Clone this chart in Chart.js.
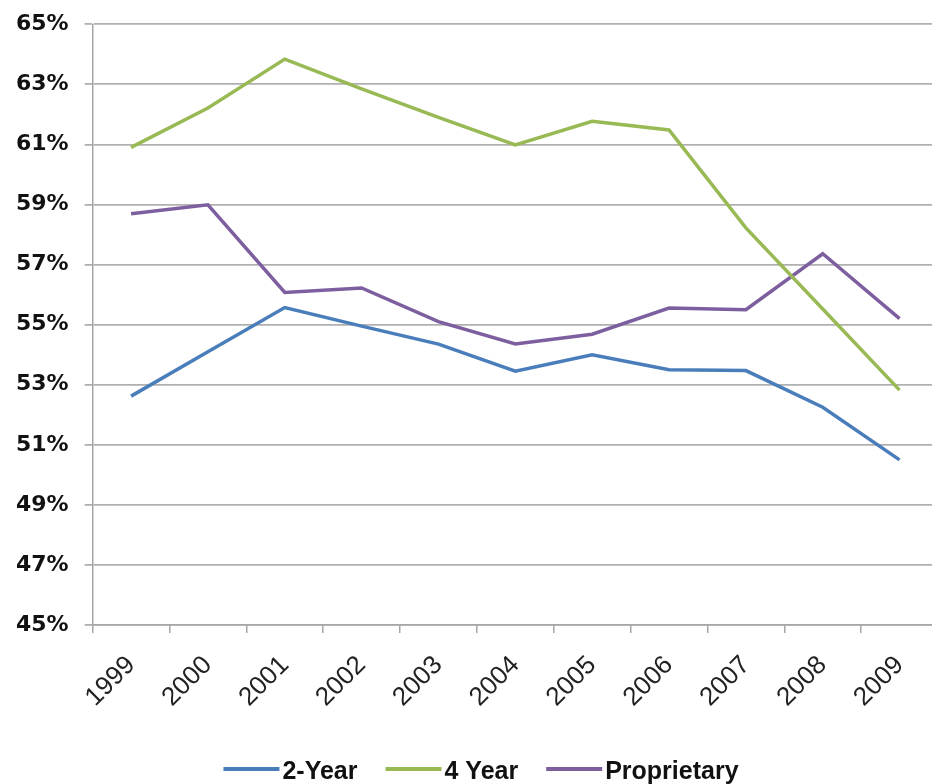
<!DOCTYPE html>
<html>
<head>
<meta charset="utf-8">
<script src="https://cdn.jsdelivr.net/npm/chart.js@4/dist/chart.umd.min.js"></script>
<style>
  html, body { margin: 0; padding: 0; background: #fff; overflow: hidden; }
  #wrap { width: 932px; height: 784px; overflow: hidden; }
  canvas { display: block; }
</style>
</head>
<body>
<div id="wrap"><canvas id="chart" width="940" height="784"></canvas></div>
<script>
// Completion rates by institution type, 1999–2009 (percent)
const years = ['1999', '2000', '2001', '2002', '2003', '2004', '2005', '2006', '2007', '2008', '2009'];
const twoYear = [52.62, 54.1, 55.57, 54.95, 54.35, 53.45, 54.0, 53.5, 53.47, 52.25, 50.5];
const fourYear = [60.9, 62.21, 63.84, 62.85, 61.9, 60.98, 61.77, 61.48, 58.22, 55.52, 52.82];
const proprietary = [58.69, 58.99, 56.07, 56.22, 55.1, 54.36, 54.68, 55.55, 55.5, 57.36, 55.2];
const yTicks = [45, 47, 49, 51, 53, 55, 57, 59, 61, 63, 65];

const seriesNames = ['2-Year', '4 Year', 'Proprietary'];
const seriesColors = ['#4a7ebb', '#98b954', '#7d5fa0'];

// Legend row under the axis: short line swatch, then the series name
const bottomLegend = {
  id: 'bottomLegend',
  afterDraw(chart, args, opts) {
    const ctx = chart.ctx;
    ctx.save();
    ctx.font = opts.font;
    ctx.textBaseline = 'middle';
    ctx.textAlign = 'left';
    const items = chart.data.datasets.map(ds => ({
      label: ds.label,
      color: ds.borderColor,
      w: ctx.measureText(ds.label).width
    }));
    const total = items.reduce((s, it) => s + opts.boxWidth + opts.gap + it.w, 0) +
      opts.spacing * (items.length - 1);
    let x = opts.centerX - total / 2;
    items.forEach(it => {
      ctx.strokeStyle = it.color;
      ctx.lineWidth = opts.lineWidth;
      ctx.beginPath();
      ctx.moveTo(x, opts.y);
      ctx.lineTo(x + opts.boxWidth, opts.y);
      ctx.stroke();
      ctx.fillStyle = '#111';
      ctx.fillText(it.label, x + opts.boxWidth + opts.gap, opts.y + 3);
      x += opts.boxWidth + opts.gap + it.w + opts.spacing;
    });
    ctx.restore();
  }
};

const seriesData = [twoYear, fourYear, proprietary];

new Chart(document.getElementById('chart'), {
  type: 'line',
  data: {
    labels: years,
    datasets: seriesNames.map((name, i) => ({
      label: name,
      data: seriesData[i],
      borderColor: seriesColors[i],
      backgroundColor: seriesColors[i],
      borderWidth: 3.5,
      pointRadius: 0,
      tension: 0,
      fill: false
    }))
  },
  options: {
    responsive: false,
    animation: false,
    devicePixelRatio: 1,
    layout: { padding: { top: 0, left: 0, right: 2, bottom: 54 } },
    plugins: {
      legend: { display: false },
      tooltip: { enabled: false },
      bottomLegend: {
        font: 'bold 25px "Liberation Sans", Arial, sans-serif',
        boxWidth: 56,
        gap: 3,
        spacing: 28,
        lineWidth: 4,
        centerX: 481,
        y: 769
      }
    },
    scales: {
      x: {
        offset: true,
        grid: {
          offset: true,
          drawOnChartArea: false,
          drawTicks: true,
          tickLength: 8,
          color: '#a6a6a6',
          lineWidth: 1.5
        },
        border: { display: true, color: '#a6a6a6', width: 1.5 },
        ticks: {
          minRotation: 45,
          maxRotation: 45,
          autoSkip: false,
          padding: 17,
          color: '#222',
          font: { family: '"Liberation Sans", Arial, sans-serif', size: 26 }
        }
      },
      y: {
        min: 45,
        max: 65,
        afterBuildTicks(scale) {
          scale.ticks = yTicks.map(v => ({ value: v }));
        },
        grid: {
          color: '#b0b0b0',
          lineWidth: 1.8,
          tickLength: 8,
          drawTicks: true
        },
        border: { display: true, color: '#a6a6a6', width: 1.5 },
        ticks: {
          padding: 16,
          color: '#111',
          font: { family: '"DejaVu Sans", sans-serif', size: 22, weight: 'bold', lineHeight: 0.75 },
          callback: v => v + '%'
        }
      }
    }
  },
  plugins: [bottomLegend]
});
</script>
</body>
</html>
